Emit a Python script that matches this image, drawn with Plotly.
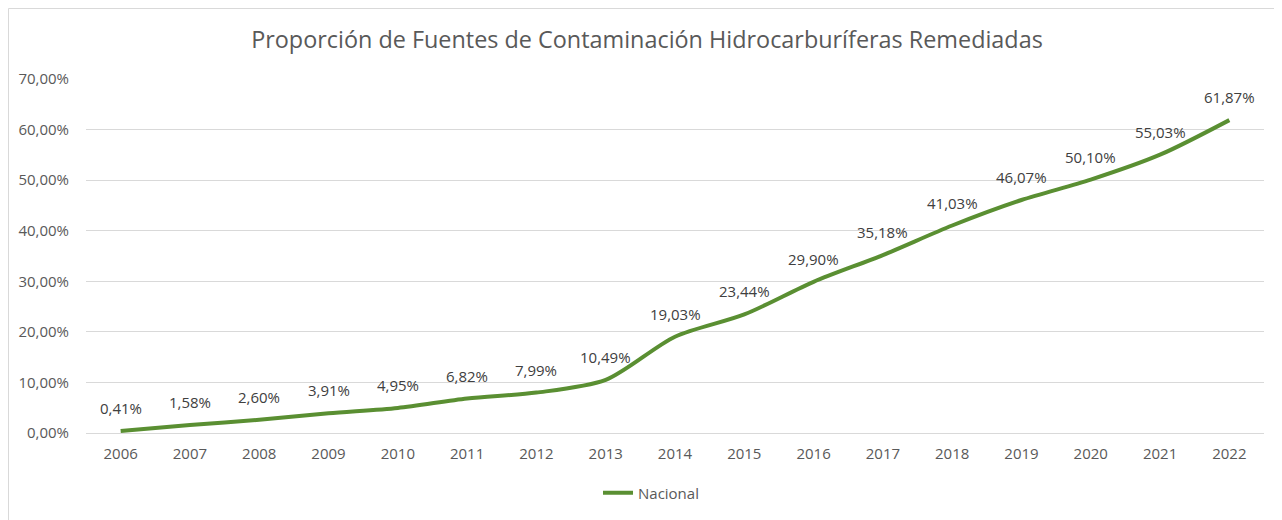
import plotly.graph_objects as go

years = [str(y) for y in range(2006, 2023)]
values = [0.41, 1.58, 2.60, 3.91, 4.95, 6.82, 7.99, 10.49, 19.03, 23.44,
          29.90, 35.18, 41.03, 46.07, 50.10, 55.03, 61.87]
series_name = "Nacional"
title_text = "Proporción de Fuentes de Contaminación Hidrocarburíferas Remediadas"

fracs = [v / 100 for v in values]

# page body has an 8px margin; figure coords = screen coords - 8
W, H = 1274, 512
L, R, T, B = 78, 18, 71, 87
pw = W - L - R
ph = H - T - B

fig = go.Figure()
fig.add_trace(go.Scatter(
    x=years, y=fracs, name=series_name, mode="lines",
    line=dict(color="#5a8f32", width=4, shape="spline", smoothing=0.8),
    cliponaxis=False,
))

for i, fr in enumerate(fracs):
    fig.add_annotation(x=i, y=fr, text=f"{fr*100:.2f}%".replace(".", ","),
                       showarrow=False, yshift=23, xanchor="center", yanchor="middle",
                       font=dict(size=15, color="#404040"))

fig.add_shape(type="rect", xref="paper", yref="paper",
              x0=(0.5 - L) / pw, x1=(W + 10 - L) / pw,
              y0=-(H + 10 - T - ph) / ph, y1=1 + (T - 0.5) / ph,
              line=dict(color="#d9d9d9", width=1), fillcolor="rgba(0,0,0,0)", layer="below")

fig.update_layout(
    width=W, height=H,
    margin=dict(l=L, r=R, t=T, b=B, autoexpand=False),
    paper_bgcolor="white", plot_bgcolor="white",
    separators=",.",
    font=dict(family="Open Sans", color="#595959", size=15),
    title=dict(text=title_text, x=639 / W, xanchor="center",
               y=1 - 32 / H, yanchor="middle",
               font=dict(size=23.4, color="#595959")),
    xaxis=dict(type="category", range=[-0.5, len(years) - 0.5],
               showgrid=False, showline=True, linecolor="#d9d9d9",
               ticks="", tickfont=dict(size=15, color="#595959"), ticklabelstandoff=7,
               automargin=False),
    yaxis=dict(range=[0, 0.70], dtick=0.10, tickformat=".2%", showgrid=True,
               gridcolor="#d9d9d9", gridwidth=1, zeroline=False, showline=False,
               tickfont=dict(size=15, color="#595959"), ticklabelstandoff=16,
               automargin=False),
    showlegend=True,
    legend=dict(orientation="h", x=(643 - L) / pw, xanchor="center",
                y=-(485 - T - ph) / ph, yanchor="middle",
                font=dict(size=15, color="#595959")),
)

fig.write_html("out.html")
